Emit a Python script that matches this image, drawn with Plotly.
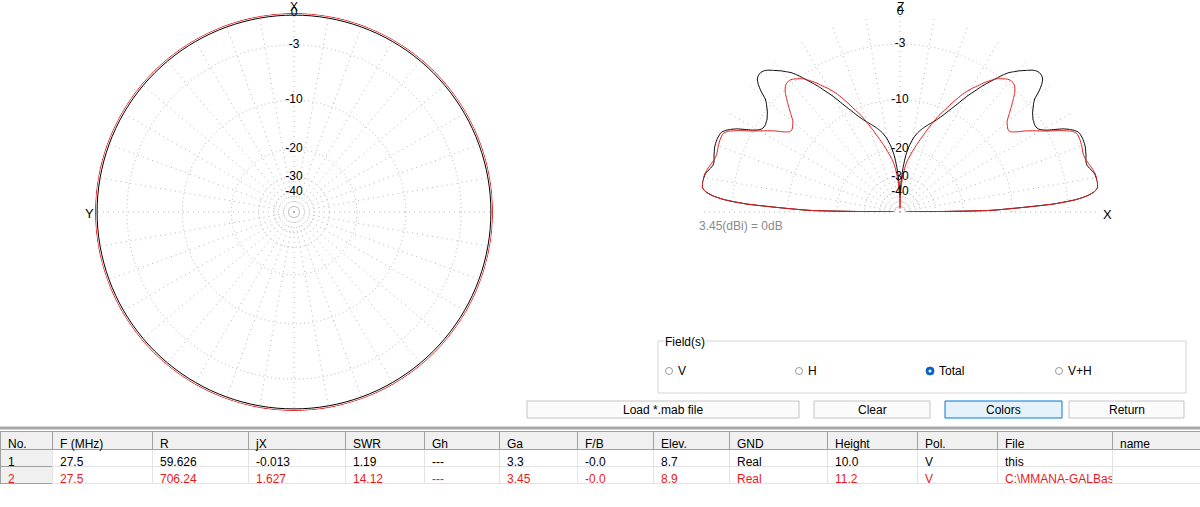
import plotly.graph_objects as go

W, H = 1200, 507

# ---------------- data ----------------
# Horizontal (azimuth) pattern, dB relative to 3.45 dBi
AZ_DEG = [0, 10, 20, 30, 40, 50, 60, 70, 80, 90, 100, 110, 120, 130, 140, 150, 160, 170, 180,
          190, 200, 210, 220, 230, 240, 250, 260, 270, 280, 290, 300, 310, 320, 330, 340, 350, 360]
AZ_THIS = [-0.15, -0.15, -0.15, -0.15, -0.15, -0.15, -0.15, -0.15, -0.15, -0.15, -0.15, -0.15, -0.15,
           -0.15, -0.15, -0.15, -0.15, -0.15, -0.15, -0.15, -0.15, -0.15, -0.15, -0.15, -0.15, -0.15,
           -0.15, -0.15, -0.15, -0.15, -0.15, -0.15, -0.15, -0.15, -0.15, -0.15, -0.15]
AZ_FILE = [0.0, 0.0, 0.0, 0.0, 0.0, 0.0, 0.0, 0.0, 0.0, 0.0, 0.0, 0.0, 0.0, 0.0, 0.0, 0.0, 0.0, 0.0, 0.0,
           0.0, 0.0, 0.0, 0.0, 0.0, 0.0, 0.0, 0.0, 0.0, 0.0, 0.0, 0.0, 0.0, 0.0, 0.0, 0.0, 0.0, 0.0]

# Vertical (elevation) pattern, dB relative to 3.45 dBi (symmetric)
ELEV_DEG = [0, 1, 2, 3, 4, 5, 6, 7, 8, 9, 10, 11, 12, 13, 14, 15, 16, 17, 18, 19, 20, 22, 24,
            25, 26, 27, 28, 29, 30, 31, 32, 33, 34, 35, 36, 37, 38, 39, 40, 41, 42, 43, 44, 45,
            46, 47, 48, 49, 50, 51, 52, 53, 54, 55, 56, 57, 58, 60, 62, 64, 66, 68, 70, 72, 74,
            76, 78, 80, 82, 84, 86, 88, 90]
EL_THIS = [-60, -14, -9, -4.5, -2.2, -1.0, -0.35, -0.05, 0, 0, -0.05, -0.1, -0.25, -0.45, -0.6,
           -0.62, -0.55, -0.45, -0.38, -0.3, -0.26, -0.24, -0.35,
           -0.6, -1.0, -1.5, -2.2, -2.9, -3.4, -3.7, -3.8, -3.8, -3.7, -3.6, -3.4, -3.2, -2.9,
           -2.6, -2.2, -1.4, -0.8, -0.4, -0.25, -0.22, -0.3, -0.5, -0.8, -1.1, -1.4, -1.75, -2.1,
           -2.6, -3.2, -3.8, -4.4, -5.0, -5.7, -7.0, -8.5, -9.8, -11.0, -12.0, -12.8, -13.5,
           -14.2, -15.0, -15.9, -17.2, -19.0, -21.5, -26.0, -33.0, -40.0]
EL_FILE = [-60, -14, -9, -4.5, -2.2, -1.0, -0.35, -0.05, 0, 0, 0, -0.05, -0.15, -0.25, -0.38,
           -0.5, -0.6, -0.65, -0.65, -0.6, -0.55, -0.5, -0.55,
           -0.8, -1.3, -1.85, -2.5, -3.1, -3.6, -4.1, -4.6, -5.1, -5.7, -6.2, -6.6, -6.7, -6.6,
           -6.4, -6.2, -5.8, -5.3, -4.8, -4.3, -3.8, -3.3, -2.95, -2.7, -2.6, -2.6, -2.7, -2.9,
           -3.1, -3.35, -3.7, -4.1, -4.5, -5.0, -5.9, -7.0, -8.4, -9.9, -11.3, -13.0, -14.8,
           -16.6, -18.3, -20.0, -21.8, -23.5, -26.5, -31.0, -40.0, -70.0]

RING_DB = [0, -3, -10, -20, -30, -40]
RING_LABELS = ["0", "-3", "-10", "-20", "-30", "-40"]

# Results table
HEADERS = ["No.", "F (MHz)", "R", "jX", "SWR", "Gh", "Ga", "F/B", "Elev.", "GND", "Height", "Pol.", "File", "name"]
COL_NO = ["1", "2"]
COL_FREQ = ["27.5", "27.5"]
COL_R = ["59.626", "706.24"]
COL_JX = ["-0.013", "1.627"]
COL_SWR = ["1.19", "14.12"]
COL_GH = ["---", "---"]
COL_GA = ["3.3", "3.45"]
COL_FB = ["-0.0", "-0.0"]
COL_ELEV = ["8.7", "8.9"]
COL_GND = ["Real", "Real"]
COL_HEIGHT = ["10.0", "11.2"]
COL_POL = ["V", "V"]
COL_FILE = ["this", "C:\\MMANA-GALBas"]
COL_NAME = ["", ""]

# ---------------- helpers ----------------
BLACK = "#000000"
RED = "#e41b1b"
GRID = "#b4b4b4"
FONT = "Liberation Sans, Arial, sans-serif"


def scale(db):
    # MMANA radial scale: r proportional to 10^(dB/40)
    return 10 ** (db / 40.0)


def px(x):
    return x / W


def py(y):
    return 1 - y / H


ring_r = [scale(d) for d in RING_DB]

# mirrored elevation pattern (0..180 deg)
theta_el = ELEV_DEG + [180 - e for e in reversed(ELEV_DEG[:-1])]
this_el = EL_THIS + list(reversed(EL_THIS[:-1]))
file_el = EL_FILE + list(reversed(EL_FILE[:-1]))

fig = go.Figure()

# Left: horizontal pattern
fig.add_trace(go.Scatterpolar(r=[scale(v) for v in AZ_THIS], theta=AZ_DEG, mode="lines",
                              line=dict(color=BLACK, width=1, shape="spline"), subplot="polar",
                              hoverinfo="skip"))
fig.add_trace(go.Scatterpolar(r=[scale(v) for v in AZ_FILE], theta=AZ_DEG, mode="lines",
                              line=dict(color=RED, width=1, shape="spline"), subplot="polar",
                              hoverinfo="skip"))
fig.add_trace(go.Scatterpolar(r=ring_r, theta=[0] * len(ring_r), mode="text", text=RING_LABELS,
                              textfont=dict(family=FONT, size=12, color="black"),
                              textposition="middle center", cliponaxis=False, subplot="polar",
                              hoverinfo="skip"))

# Right: vertical pattern
fig.add_trace(go.Scatterpolar(r=[scale(v) for v in this_el], theta=theta_el, mode="lines",
                              line=dict(color=BLACK, width=1, shape="spline", smoothing=0.6),
                              subplot="polar2", hoverinfo="skip"))
fig.add_trace(go.Scatterpolar(r=[scale(v) for v in file_el], theta=theta_el, mode="lines",
                              line=dict(color=RED, width=1, shape="spline", smoothing=0.6),
                              subplot="polar2", hoverinfo="skip"))
fig.add_trace(go.Scatterpolar(r=ring_r, theta=[90] * len(ring_r), mode="text", text=RING_LABELS,
                              textfont=dict(family=FONT, size=12, color="black"),
                              textposition="middle center", cliponaxis=False, subplot="polar2",
                              hoverinfo="skip"))

radial = dict(range=[0, 1.002], tickvals=ring_r, showticklabels=False, ticks="", showline=False,
              gridcolor=GRID, griddash="1px,3px", gridwidth=1)
angular = dict(dtick=10, showticklabels=False, ticks="", showline=False, gridcolor=GRID,
               griddash="1px,4px", gridwidth=1)

# Table
columns = [COL_NO, COL_FREQ, COL_R, COL_JX, COL_SWR, COL_GH, COL_GA, COL_FB, COL_ELEV,
           COL_GND, COL_HEIGHT, COL_POL, COL_FILE, COL_NAME]
n = len(columns)
fill_cols = [["#f0f0f0", "#f0f0f0"]] + [["white", "white"]] * (n - 1)
font_cols = [[BLACK, RED]] * n
line_cols = [["#a0a0a0", "#a0a0a0"]] + [["#e3e3e3", "#e3e3e3"]] * (n - 1)
fig.add_trace(go.Table(
    domain=dict(x=[0, 1], y=[0, py(431)]),
    columnwidth=[52, 100, 96, 97, 79, 75, 78, 76, 76, 98, 90, 80, 115, 88],
    header=dict(values=HEADERS, fill_color="#f0f0f0", line=dict(color="#a0a0a0", width=1),
                align="left", height=18, font=dict(family=FONT, size=12, color="black")),
    cells=dict(values=columns, fill=dict(color=fill_cols), line=dict(color=line_cols, width=1),
               align="left", height=17, font=dict(family=FONT, size=12, color=font_cols)),
))

# ---------------- UI decorations ----------------
shapes = []
annotations = []


def text(x, y, s, color="black", size=12, xanchor="center", bg=None):
    d = dict(x=px(x), y=py(y), xref="paper", yref="paper", text=s, showarrow=False,
             xanchor=xanchor, yanchor="middle", font=dict(family=FONT, size=size, color=color))
    if bg:
        d["bgcolor"] = bg
        d["borderpad"] = 0
    annotations.append(d)


# axis letters
text(294, 7, "X", size=12)
text(89, 214, "Y", size=13)
text(900, 7, "Z", size=12)
text(1107, 215, "X", size=13)
text(697, 226, "3.45(dBi) = 0dB", color="#8a8a8a", xanchor="left")

# group box
shapes.append(dict(type="rect", xref="paper", yref="paper", x0=px(658), x1=px(1186), y0=py(393),
                   y1=py(341), line=dict(color="#d5d5d5", width=1)))
text(664, 342, "Field(s)", xanchor="left", bg="white")

# radio buttons
for cx, label, sel in [(669, "V", False), (799, "H", False), (930, "Total", True), (1059, "V+H", False)]:
    if sel:
        shapes.append(dict(type="circle", xref="paper", yref="paper", x0=px(cx - 4), x1=px(cx + 4),
                           y0=py(371 + 4), y1=py(371 - 4), fillcolor="#0a64c8",
                           line=dict(color="#0a64c8", width=1)))
        shapes.append(dict(type="circle", xref="paper", yref="paper", x0=px(cx - 1.5), x1=px(cx + 1.5),
                           y0=py(371 + 1.5), y1=py(371 - 1.5), fillcolor="white",
                           line=dict(color="white", width=0)))
    else:
        shapes.append(dict(type="circle", xref="paper", yref="paper", x0=px(cx - 3.5), x1=px(cx + 3.5),
                           y0=py(371 + 3.5), y1=py(371 - 3.5), fillcolor="white",
                           line=dict(color="#9a9a9a", width=1)))
    text(cx + 7, 371, label, xanchor="left")

# buttons
for x0, x1, label, hl in [(527, 799, "Load *.mab file", False), (814, 930, "Clear", False),
                          (945, 1062, "Colors", True), (1069, 1184, "Return", False)]:
    shapes.append(dict(type="rect", xref="paper", yref="paper", x0=px(x0), x1=px(x1), y0=py(418),
                       y1=py(401), fillcolor="#e5f1fb" if hl else "#fbfbfb",
                       line=dict(color="#0078d7" if hl else "#c4c4c4", width=1)))
    text((x0 + x1) / 2, 409.5, label)

# splitter line
shapes.append(dict(type="line", xref="paper", yref="paper", x0=0, x1=1, y0=py(428), y1=py(428),
                   line=dict(color="#a8a8a8", width=3)))

fig.update_layout(
    width=W, height=H, margin=dict(l=0, r=0, t=0, b=0), paper_bgcolor="white",
    plot_bgcolor="white", showlegend=False,
    polar=dict(domain=dict(x=[px(95), px(493)], y=[py(411), py(13)]), bgcolor="white",
               radialaxis=radial, angularaxis=dict(angular, rotation=90, direction="counterclockwise")),
    polar2=dict(domain=dict(x=[px(700), px(1100)], y=[py(212), py(12)]), bgcolor="white",
                sector=[0, 180], radialaxis=radial,
                angularaxis=dict(angular, rotation=0, direction="counterclockwise")),
    shapes=shapes, annotations=annotations,
)

fig.write_html("out.html", config={"displayModeBar": False},
               post_script="document.body.style.margin='0';document.body.style.padding='0';document.body.style.overflow='hidden';")
